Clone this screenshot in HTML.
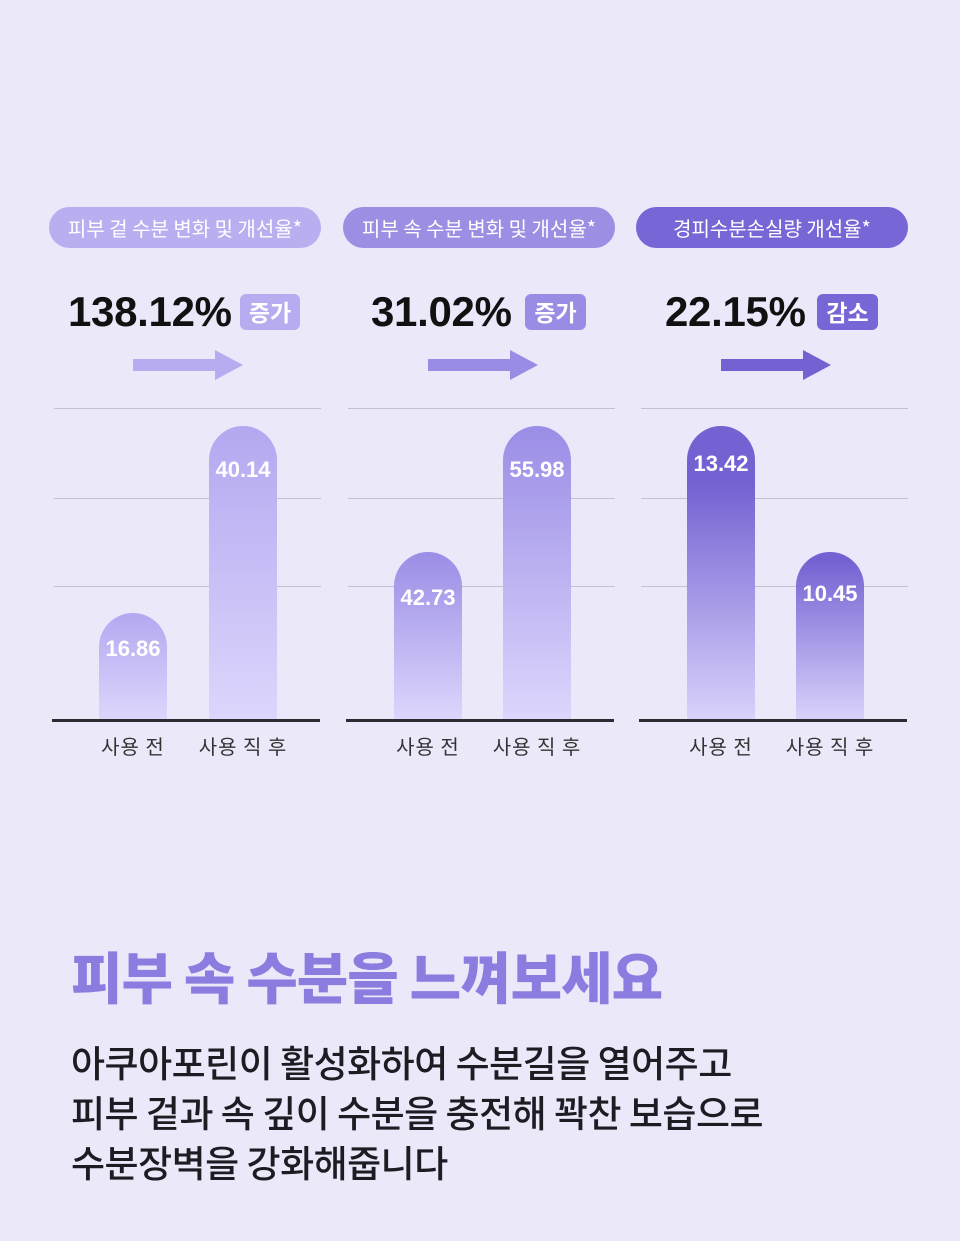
<!DOCTYPE html>
<html><head><meta charset="utf-8"><style>
*{margin:0;padding:0;box-sizing:border-box}
body{width:960px;height:1241px;background:#ebe8fa;position:relative;overflow:hidden;font-family:"Liberation Sans","Noto Sans CJK KR",sans-serif}
.a{position:absolute}
.pill{position:absolute;top:207px;height:41px;width:272px;border-radius:21px;color:#fff;font-size:20px;text-align:center;line-height:41px;font-family:"Noto Sans CJK KR",sans-serif}
.num{position:absolute;top:286px;font-size:42px;font-weight:bold;color:#111;letter-spacing:-0.3px;line-height:52px}
.badge{position:absolute;top:294px;height:36px;border-radius:6px;color:#fff;font-size:23px;font-weight:bold;line-height:34px;text-align:center;font-family:"Noto Sans CJK KR",sans-serif}
.grid{position:absolute;height:1px;background:#c4c1cf;width:267px}
.base{position:absolute;top:719px;height:3px;background:#2e2b33;width:268px}
.bar{position:absolute;width:68px;border-radius:34px 34px 0 0;bottom:522px}
.bv{position:absolute;width:68px;text-align:center;color:#fff;font-weight:bold;font-size:22px;letter-spacing:0}
.lb{position:absolute;top:731px;font-size:20px;color:#333;font-family:"Noto Sans CJK KR",sans-serif;width:120px;text-align:center;letter-spacing:1px}
</style></head><body>

<div class="pill" style="left:49px;background:#b9aef0">피부 겉 수분 변화 및 개선율*</div>
<div class="pill" style="left:343px;background:#9b8ee3">피부 속 수분 변화 및 개선율*</div>
<div class="pill" style="left:636px;background:#7766d6">경피수분손실량 개선율*</div>

<div class="num" style="left:68px">138.12%</div>
<div class="badge" style="left:240px;width:60px;background:#b7acf0">증가</div>
<div class="num" style="left:371px">31.02%</div>
<div class="badge" style="left:525px;width:61px;background:#998ce4">증가</div>
<div class="num" style="left:665px">22.15%</div>
<div class="badge" style="left:817px;width:61px;background:#7766d6">감소</div>

<svg class="a" style="left:0;top:345px" width="960" height="40">
<g fill="#b7acf0"><rect x="133" y="14" width="84" height="12"/><polygon points="215,5 243,20 215,35"/></g>
<g fill="#998ce4"><rect x="428" y="14" width="84" height="12"/><polygon points="510,5 538,20 510,35"/></g>
<g fill="#7462d2"><rect x="721" y="14" width="84" height="12"/><polygon points="803,5 831,20 803,35"/></g>
</svg>

<div class="grid" style="left:54px;top:408px"></div><div class="grid" style="left:54px;top:498px"></div><div class="grid" style="left:54px;top:586px"></div>
<div class="grid" style="left:348px;top:408px"></div><div class="grid" style="left:348px;top:498px"></div><div class="grid" style="left:348px;top:586px"></div>
<div class="grid" style="left:641px;top:408px"></div><div class="grid" style="left:641px;top:498px"></div><div class="grid" style="left:641px;top:586px"></div>

<div class="bar" style="left:99px;top:613px;background:linear-gradient(#b3a8f0,#dcd6fc)"></div>
<div class="bar" style="left:209px;top:426px;background:linear-gradient(#b3a8f0,#dcd6fc)"></div>
<div class="bar" style="left:394px;top:552px;background:linear-gradient(#9a8de6,#dcd6fc)"></div>
<div class="bar" style="left:503px;top:426px;background:linear-gradient(#9a8de6,#dcd6fc)"></div>
<div class="bar" style="left:687px;top:426px;background:linear-gradient(#7462d2 20%,#d8d2fb)"></div>
<div class="bar" style="left:796px;top:552px;background:linear-gradient(#7462d2 5%,#d8d2fb)"></div>

<div class="bv" style="left:99px;top:636px">16.86</div>
<div class="bv" style="left:209px;top:457px">40.14</div>
<div class="bv" style="left:394px;top:585px">42.73</div>
<div class="bv" style="left:503px;top:457px">55.98</div>
<div class="bv" style="left:687px;top:451px">13.42</div>
<div class="bv" style="left:796px;top:581px">10.45</div>

<div class="base" style="left:52px"></div>
<div class="base" style="left:346px"></div>
<div class="base" style="left:639px"></div>

<div class="lb" style="left:73px">사용 전</div><div class="lb" style="left:183px">사용 직 후</div>
<div class="lb" style="left:368px">사용 전</div><div class="lb" style="left:477px">사용 직 후</div>
<div class="lb" style="left:661px">사용 전</div><div class="lb" style="left:770px">사용 직 후</div>

<div class="a" style="left:71px;top:940px;font-family:'Noto Sans CJK KR',sans-serif;font-weight:900;font-size:56px;color:#8b7ce0;letter-spacing:-1px;line-height:72px">피부 속 수분을 느껴보세요</div>
<div class="a" style="left:71px;top:1036px;font-family:'Noto Sans CJK KR',sans-serif;font-weight:500;font-size:37px;color:#1e1c22;line-height:50px;letter-spacing:-0.5px">아쿠아포린이 활성화하여 수분길을 열어주고<br>피부 겉과 속 깊이 수분을 충전해 꽉찬 보습으로<br>수분장벽을 강화해줍니다</div>
</body></html>
